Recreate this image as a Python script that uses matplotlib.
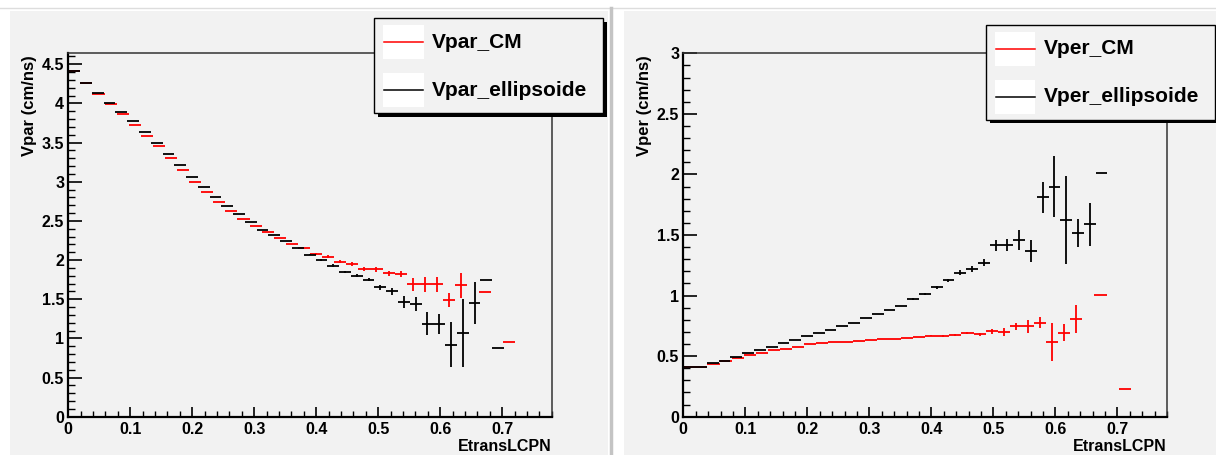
import numpy as np
import matplotlib
matplotlib.use("Agg")
import matplotlib.pyplot as plt
from matplotlib.patches import Rectangle
from matplotlib.lines import Line2D
from matplotlib.ticker import MultipleLocator, FormatStrFormatter

plt.rcParams['font.family'] = ['Liberation Sans', 'DejaVu Sans']
plt.rcParams['font.weight'] = 'bold'

W, H = 1216, 455
nan = np.nan

# profile binning: CM has 40 bins on [0, 0.78], ellipsoide 40 bins on [0, 0.76]
cm_edges = np.linspace(0, 0.78, 41)
ell_edges = np.linspace(0, 0.76, 41)

# Vpar (left)
vpar_cm = [4.41, 4.26, 4.12, 3.99, 3.87, 3.73, 3.59, 3.45, 3.30, 3.15,
           3.00, 2.87, 2.74, 2.63, 2.53, 2.44, 2.36, 2.28, 2.21, 2.16,
           2.08, 2.04, 1.98, 1.95, 1.89, 1.88, 1.83, 1.82, 1.69, 1.69,
           1.69, 1.49, 1.68, nan, 1.59, nan, 0.95]
vpar_cm_err = [0]*20 + [0.01, 0.02, 0.02, 0.02, 0.025, 0.03, 0.03, 0.04, 0.08, 0.095,
                        0.10, 0.095, 0.16, nan, 0, nan, 0]
vpar_ell = [4.42, 4.26, 4.13, 4.01, 3.89, 3.77, 3.64, 3.49, 3.35, 3.21,
            3.06, 2.93, 2.81, 2.69, 2.59, 2.48, 2.39, 2.32, 2.24, 2.15,
            2.07, 2.00, 1.93, 1.85, 1.80, 1.75, 1.65, 1.60, 1.46, 1.44,
            1.19, 1.18, 0.92, 1.07, 1.45, 1.74, 0.88]
vpar_ell_err = [0]*20 + [0.01, 0.012, 0.015, 0.015, 0.02, 0.02, 0.03, 0.04, 0.077, 0.09,
                         0.147, 0.128, 0.285, 0.43, 0.27, 0, 0]

# Vper (right)
vper_cm = [0.41, 0.41, 0.435, 0.457, 0.482, 0.507, 0.529, 0.548, 0.562, 0.578,
           0.598, 0.606, 0.614, 0.62, 0.625, 0.631, 0.638, 0.641, 0.652, 0.655,
           0.669, 0.666, 0.677, 0.688, 0.68, 0.705, 0.699, 0.746, 0.746, 0.776,
           0.617, 0.694, 0.804, nan, 1.005, nan, 0.229]
vper_cm_err = [0]*20 + [0.005, 0.005, 0.008, 0.008, 0.01, 0.02, 0.03, 0.03, 0.055, 0.045,
                        0.155, 0.07, 0.117, nan, 0, nan, 0]
vper_ell = [0.41, 0.41, 0.44, 0.462, 0.493, 0.523, 0.551, 0.578, 0.606, 0.633,
            0.664, 0.689, 0.716, 0.746, 0.774, 0.815, 0.848, 0.881, 0.917, 0.972,
            1.016, 1.068, 1.126, 1.189, 1.22, 1.272, 1.415, 1.42, 1.459, 1.368,
            1.81, 1.90, 1.624, 1.517, 1.589, 2.015]
vper_ell_err = [0]*19 + [0.005, 0.008, 0.01, 0.01, 0.02, 0.025, 0.03, 0.045, 0.05, 0.08, 0.09,
                         0.127, 0.25, 0.36, 0.114, 0.176, 0]

BG = '#f2f2f2'

fig = plt.figure(figsize=(W/100, H/100), dpi=100)
fig.patch.set_facecolor('white')


def frect(x0, y0, x1, y1, **kw):
    # rectangle in pixel coords (top-left origin)
    r = Rectangle((x0/W, 1 - y1/H), (x1 - x0)/W, (y1 - y0)/H,
                  transform=fig.transFigure, **kw)
    fig.add_artist(r)
    return r


def fline(xs, ys, **kw):
    fig.add_artist(Line2D([x/W for x in xs], [1 - y/H for y in ys],
                          transform=fig.transFigure, **kw))


# canvases
fline([0, W], [8, 8], color='#dddddd', lw=1)
frect(9.7, 11, 608, H, facecolor=BG, edgecolor='none', zorder=0)
frect(623.5, 11, W, H, facecolor=BG, edgecolor='none', zorder=0)
fline([611, 611], [8, H], color='#c4c4c4', lw=2.5)


def draw_prof(ax, edges, vals, errs, color):
    vals = np.asarray(vals, dtype=float)
    errs = np.asarray(errs, dtype=float)
    n = len(vals)
    c = 0.5*(edges[:-1] + edges[1:])[:n]
    hw = 0.5*np.diff(edges)[:n]
    m = ~np.isnan(vals)
    ax.errorbar(c[m], vals[m], xerr=hw[m], yerr=errs[m], fmt='none',
                ecolor=color, elinewidth=1.3, capsize=0)


def setup_axes(rect_px, ymax, ylabel, ylab_x):
    x0, y0, x1, y1 = rect_px
    ax = fig.add_axes([x0/W, 1 - y1/H, (x1 - x0)/W, (y1 - y0)/H])
    ax.set_facecolor(BG)
    ax.set_xlim(0, 0.78)
    ax.set_ylim(0, ymax)
    ax.xaxis.set_major_locator(MultipleLocator(0.1))
    ax.xaxis.set_minor_locator(MultipleLocator(0.02))
    ax.yaxis.set_major_locator(MultipleLocator(0.5))
    ax.yaxis.set_minor_locator(MultipleLocator(0.1))
    ax.xaxis.set_major_formatter(FormatStrFormatter('%g'))
    ax.yaxis.set_major_formatter(FormatStrFormatter('%g'))
    ax.tick_params(axis='y', which='major', direction='in', length=10, width=1.2,
                   pad=3, labelsize=11.5)
    ax.tick_params(axis='y', which='minor', direction='in', length=5, width=1.0)
    ax.tick_params(axis='x', which='major', direction='in', length=7.2, width=1.2,
                   pad=4, labelsize=11.5)
    ax.tick_params(axis='x', which='minor', direction='in', length=4.3, width=1.0)
    for s in ('left', 'bottom'):
        ax.spines[s].set_linewidth(1.6)
        ax.spines[s].set_color('black')
    for s in ('top', 'right'):
        ax.spines[s].set_linewidth(1.1)
        ax.spines[s].set_color('#333333')
    ax.set_ylabel(ylabel, loc='top', fontsize=12, fontweight='bold', va='center')
    ax.yaxis.set_label_coords(ylab_x, 0.995)
    ax.set_xlabel('EtransLCPN', loc='right', fontsize=11.5, fontweight='bold',
                  va='center')
    ax.xaxis.set_label_coords(1.0, -0.082)
    return ax


def draw_legend(box, labels, colors):
    x0, y0, x1, y1 = box
    frect(x0 + 4, y0 + 4, x1 + 4, y1 + 4, facecolor='black', edgecolor='none', zorder=10)
    frect(x0, y0, x1, y1, facecolor=BG, edgecolor='black', lw=1, zorder=11)
    for i, (lab, col) in enumerate(zip(labels, colors)):
        top = y0 + 7 + i*47.7
        frect(x0 + 8.8, top, x0 + 49.5, top + 34, facecolor='white',
              edgecolor='none', zorder=12)
        yc = top + 17
        fline([x0 + 10, x0 + 49], [yc, yc], color=col, lw=1.1, zorder=13)
        fig.text((x0 + 58)/W, 1 - yc/H, lab, fontsize=15, fontweight='bold',
                 va='center', ha='left', zorder=13)


# left: Vpar
axL = setup_axes((68.3, 53.3, 551.7, 416.7), 4.64, 'Vpar (cm/ns)', -0.081)
draw_prof(axL, cm_edges, vpar_cm, vpar_cm_err, 'red')
draw_prof(axL, ell_edges, vpar_ell, vpar_ell_err, 'black')
draw_legend((374, 18.3, 603.3, 112.7), ['Vpar_CM', 'Vpar_ellipsoide'], ['red', 'black'])

# right: Vper
axR = setup_axes((683.3, 53.3, 1167, 416.7), 3.0, 'Vper (cm/ns)', -0.080)
draw_prof(axR, cm_edges, vper_cm, vper_cm_err, 'red')
draw_prof(axR, ell_edges, vper_ell, vper_ell_err, 'black')
draw_legend((985.7, 25, 1215, 119.5), ['Vper_CM', 'Vper_ellipsoide'], ['red', 'black'])

fig.savefig('out.png', dpi=100)
